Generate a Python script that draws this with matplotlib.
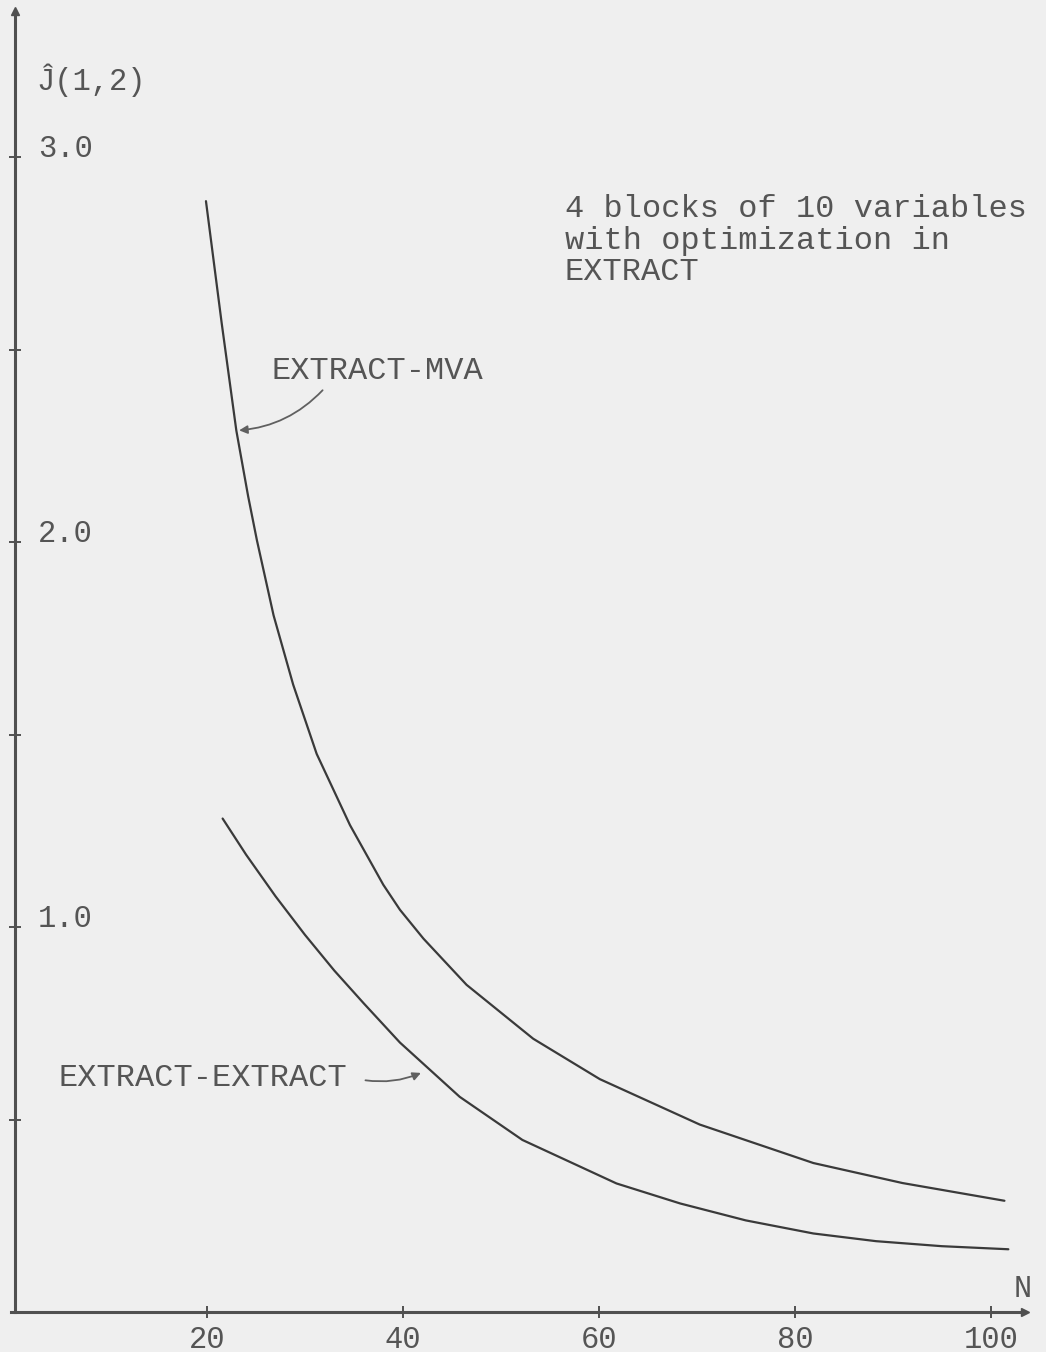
"""Recreation of a scanned J(1,2) vs N chart: EXTRACT-MVA vs EXTRACT-EXTRACT."""
import matplotlib

matplotlib.use("Agg")
import matplotlib.pyplot as plt

# ---- data ------------------------------------------------------------------
mva_n = [19.9, 21.5, 23.0, 24.2, 25.1, 26.8, 28.8, 31.2, 34.6, 38.0, 39.7,
         42.1, 46.5, 53.3, 60.1, 70.3, 81.9, 91.0, 101.4]
mva_j = [2.886, 2.57, 2.29, 2.12, 2.005, 1.81, 1.63, 1.45, 1.265, 1.11, 1.045,
         0.97, 0.85, 0.71, 0.605, 0.487, 0.387, 0.335, 0.289]

ee_n = [21.6, 24.0, 27.0, 30.0, 33.0, 36.0, 39.7, 45.8, 52.2, 61.8, 68.3,
        75.0, 81.9, 88.3, 95.0, 101.8]
ee_j = [1.282, 1.188, 1.080, 0.980, 0.887, 0.802, 0.700, 0.559, 0.447, 0.334,
        0.282, 0.238, 0.204, 0.184, 0.171, 0.163]

x_ticks = [20, 40, 60, 80, 100]
x_labels = ["20", "40", "60", "80", "100"]
y_ticks = [0.5, 1.0, 1.5, 2.0, 2.5, 3.0]
y_labels = ["", "1.0", "", "2.0", "", "3.0"]

note = "4 blocks of 10 variables\nwith optimization in\nEXTRACT"

BG = "#efefef"
INK = "#3a3a3a"
TXT = "#555555"
FONT = "Liberation Mono"

plt.rcParams["font.family"] = [FONT, "DejaVu Sans"]

fig = plt.figure(figsize=(10.46, 13.52), dpi=100, facecolor=BG)
ax = fig.add_axes([11 / 1046, 40 / 1352, 1014 / 1046, 1301 / 1352])
ax.set_facecolor(BG)
ax.set_xlim(0, 103.5)
ax.set_ylim(0, 3.38)

for n, j in ((mva_n, mva_j), (ee_n, ee_j)):
    ax.plot(n, j, color=INK, lw=1.6, solid_capstyle="round",
            solid_joinstyle="round")

# axes as plain lines from the origin, with small arrowheads
for side in ("top", "right"):
    ax.spines[side].set_visible(False)
ax.spines["left"].set_position(("data", 0.4))
for side in ("left", "bottom"):
    ax.spines[side].set_color("#505050")
    ax.spines[side].set_linewidth(2.2)
ax.plot(0.4, 1, "^", color="#505050", ms=6, transform=ax.get_xaxis_transform(),
        clip_on=False)
ax.plot(1, 0, ">", color="#505050", ms=6, transform=ax.get_yaxis_transform(),
        clip_on=False)

ax.set_xticks(x_ticks, x_labels)
ax.set_yticks(y_ticks, y_labels)
ax.tick_params(axis="both", direction="inout", length=8, width=1.4,
               color="#505050", labelcolor=TXT, labelsize=22)
ax.tick_params(axis="x", pad=5)
ax.tick_params(axis="y", pad=-20.5)
plt.setp(ax.get_yticklabels(), ha="left", va="baseline")

# labels and annotations
ax.text(2.6, 3.174, "\u0134(1,2)", color=TXT, fontsize=22, va="baseline")
ax.text(103.3, 0.02, "N", color=TXT, fontsize=22, ha="center", va="bottom")
# va="baseline" pins the last line of a multi-line text
ax.text(56.5, 2.68, note, color=TXT, fontsize=23, va="baseline",
        linespacing=1.08)

ax.annotate("", xy=(23.0, 2.29), xytext=(32.0, 2.40),
            arrowprops=dict(arrowstyle="-|>", color="#606060", lw=1.3,
                            mutation_scale=12,
                            connectionstyle="arc3,rad=-0.2"))
ax.text(26.6, 2.425, "EXTRACT-MVA", color=TXT, fontsize=23, va="baseline")

ax.annotate("", xy=(42.1, 0.624), xytext=(35.9, 0.603),
            arrowprops=dict(arrowstyle="-|>", color="#606060", lw=1.3,
                            mutation_scale=12,
                            connectionstyle="arc3,rad=0.15"))
ax.text(4.8, 0.587, "EXTRACT-EXTRACT", color=TXT, fontsize=23, va="baseline")

fig.savefig("out.png", dpi=100, facecolor=BG)
